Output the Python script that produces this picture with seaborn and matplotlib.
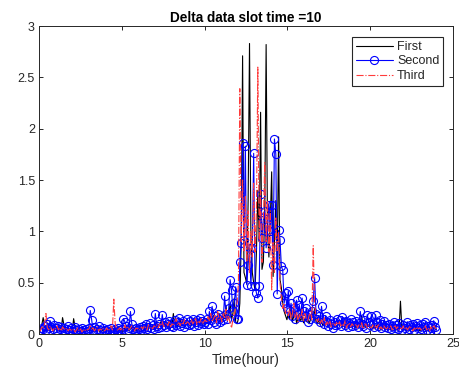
import numpy as np
import pandas as pd
import matplotlib
matplotlib.use("Agg")
import matplotlib.pyplot as plt
import seaborn as sns

# Valores (12 amostras por hora, uma linha por hora)
first = [
    0.03, 0.06, 0.09, 0.16, 0.08, 0.05, 0.07, 0.04, 0.06, 0.09, 0.05, 0.04,
    0.06, 0.03, 0.05, 0.07, 0.04, 0.16, 0.09, 0.04, 0.06, 0.03, 0.05, 0.04,
    0.03, 0.15, 0.07, 0.03, 0.05, 0.02, 0.04, 0.03, 0.05, 0.02, 0.04, 0.03,
    0.04, 0.03, 0.06, 0.02, 0.05, 0.03, 0.04, 0.06, 0.02, 0.05, 0.03, 0.04,
    0.02, 0.05, 0.03, 0.04, 0.02, 0.06, 0.03, 0.05, 0.04, 0.02, 0.05, 0.03,
    0.05, 0.03, 0.06, 0.04, 0.07, 0.03, 0.05, 0.08, 0.04, 0.06, 0.03, 0.05,
    0.04, 0.07, 0.05, 0.08, 0.04, 0.06, 0.09, 0.05, 0.07, 0.04, 0.08, 0.06,
    0.07, 0.10, 0.06, 0.09, 0.12, 0.07, 0.10, 0.08, 0.11, 0.06, 0.09, 0.13,
    0.08, 0.20, 0.09, 0.12, 0.07, 0.11, 0.14, 0.08, 0.10, 0.13, 0.09, 0.12,
    0.10, 0.13, 0.08, 0.12, 0.15, 0.09, 0.11, 0.14, 0.10, 0.13, 0.08, 0.12,
    0.15, 0.10, 0.13, 0.17, 0.11, 0.14, 0.18, 0.12, 0.16, 0.13, 0.20, 0.14,
    0.12, 0.22, 0.15, 0.28, 0.13, 0.18, 0.30, 0.14, 0.20, 0.35, 0.12, 0.10,
    0.15, 0.30, 0.90, 2.71, 0.60, 0.55, 0.49, 1.30, 2.83, 0.95, 0.60, 0.50,
    0.43, 0.80, 1.40, 0.90, 2.16, 0.63, 0.70, 1.20, 2.82, 1.00, 0.75, 1.10,
    1.58, 0.56, 0.90, 1.30, 0.70, 1.92, 0.53, 0.45, 0.30, 0.22, 0.18, 0.14,
    0.20, 0.15, 0.25, 0.12, 0.18, 0.22, 0.10, 0.16, 0.20, 0.13, 0.17, 0.11,
    0.15, 0.12, 0.18, 0.10, 0.14, 0.20, 0.16, 0.25, 0.12, 0.10, 0.14, 0.09,
    0.12, 0.08, 0.11, 0.09, 0.13, 0.07, 0.10, 0.12, 0.08, 0.11, 0.09, 0.07,
    0.10, 0.08, 0.12, 0.07, 0.09, 0.14, 0.06, 0.10, 0.08, 0.11, 0.07, 0.09,
    0.08, 0.06, 0.10, 0.07, 0.09, 0.18, 0.06, 0.08, 0.10, 0.07, 0.09, 0.06,
    0.07, 0.05, 0.08, 0.06, 0.09, 0.05, 0.07, 0.04, 0.06, 0.08, 0.05, 0.07,
    0.05, 0.07, 0.04, 0.06, 0.05, 0.08, 0.04, 0.06, 0.05, 0.32, 0.06, 0.04,
    0.06, 0.04, 0.07, 0.05, 0.03, 0.06, 0.04, 0.07, 0.05, 0.04, 0.06, 0.03,
    0.05, 0.07, 0.04, 0.06, 0.03, 0.05, 0.07, 0.04, 0.06, 0.05, 0.08, 0.04,
]

second = [
    0.03, 0.04, 0.06, 0.05, 0.08, 0.04, 0.10, 0.06, 0.13, 0.07, 0.05, 0.09,
    0.06, 0.03, 0.08, 0.05, 0.07, 0.04, 0.06, 0.02, 0.05, 0.08, 0.04, 0.06,
    0.03, 0.05, 0.07, 0.04, 0.02, 0.05, 0.03, 0.06, 0.04, 0.02, 0.05, 0.03,
    0.06, 0.23, 0.14, 0.04, 0.07, 0.03, 0.05, 0.08, 0.04, 0.02, 0.06, 0.03,
    0.04, 0.02, 0.05, 0.03, 0.06, 0.04, 0.02, 0.05, 0.03, 0.06, 0.04, 0.02,
    0.05, 0.15, 0.12, 0.08, 0.04, 0.06, 0.22, 0.10, 0.05, 0.03, 0.06, 0.04,
    0.05, 0.07, 0.04, 0.08, 0.06, 0.10, 0.05, 0.07, 0.11, 0.06, 0.09, 0.05,
    0.20, 0.08, 0.06, 0.10, 0.07, 0.19, 0.09, 0.12, 0.07, 0.10, 0.13, 0.08,
    0.11, 0.07, 0.14, 0.09, 0.12, 0.16, 0.08, 0.11, 0.13, 0.07, 0.10, 0.15,
    0.09, 0.13, 0.10, 0.15, 0.08, 0.12, 0.14, 0.09, 0.16, 0.11, 0.13, 0.10,
    0.12, 0.15, 0.10, 0.22, 0.14, 0.27, 0.12, 0.18, 0.10, 0.20, 0.15, 0.12,
    0.17, 0.14, 0.37, 0.20, 0.15, 0.25, 0.53, 0.43, 0.22, 0.30, 0.46, 0.15,
    0.15, 0.70, 0.89, 1.86, 0.92, 1.83, 0.48, 0.67, 0.84, 0.47, 0.84, 1.76,
    0.47, 0.40, 0.35, 0.47, 1.36, 0.94, 1.11, 1.20, 0.84, 1.01, 1.26, 1.00,
    1.26, 0.67, 1.90, 1.75, 0.39, 1.01, 0.92, 0.66, 0.62, 0.30, 0.40, 0.25,
    0.42, 0.22, 0.30, 0.18, 0.25, 0.15, 0.33, 0.20, 0.28, 0.17, 0.35, 0.22,
    0.18, 0.25, 0.12, 0.20, 0.15, 0.22, 0.32, 0.55, 0.20, 0.15, 0.18, 0.12,
    0.27, 0.15, 0.10, 0.18, 0.12, 0.08, 0.14, 0.10, 0.06, 0.12, 0.09, 0.15,
    0.10, 0.14, 0.08, 0.17, 0.12, 0.09, 0.13, 0.07, 0.11, 0.15, 0.08, 0.12,
    0.09, 0.13, 0.07, 0.11, 0.22, 0.10, 0.08, 0.14, 0.06, 0.19, 0.12, 0.09,
    0.18, 0.10, 0.07, 0.19, 0.12, 0.08, 0.14, 0.06, 0.10, 0.13, 0.07, 0.09,
    0.06, 0.10, 0.05, 0.08, 0.12, 0.06, 0.09, 0.05, 0.11, 0.07, 0.04, 0.09,
    0.06, 0.08, 0.12, 0.05, 0.09, 0.07, 0.10, 0.04, 0.08, 0.11, 0.06, 0.09,
    0.05, 0.10, 0.07, 0.12, 0.04, 0.08, 0.02, 0.06, 0.09, 0.13, 0.07, 0.04,
]

third = [
    0.04, 0.03, 0.07, 0.05, 0.10, 0.20, 0.06, 0.04, 0.08, 0.05, 0.03, 0.06,
    0.05, 0.08, 0.04, 0.06, 0.03, 0.07, 0.05, 0.04, 0.06, 0.03, 0.05, 0.04,
    0.03, 0.05, 0.02, 0.04, 0.06, 0.03, 0.05, 0.02, 0.04, 0.03, 0.05, 0.04,
    0.05, 0.08, 0.04, 0.06, 0.03, 0.05, 0.07, 0.03, 0.05, 0.04, 0.06, 0.03,
    0.04, 0.06, 0.03, 0.05, 0.08, 0.04, 0.34, 0.10, 0.05, 0.03, 0.06, 0.04,
    0.06, 0.04, 0.09, 0.05, 0.07, 0.04, 0.06, 0.08, 0.05, 0.03, 0.06, 0.05,
    0.06, 0.04, 0.07, 0.05, 0.08, 0.06, 0.04, 0.09, 0.06, 0.07, 0.05, 0.08,
    0.07, 0.09, 0.06, 0.10, 0.08, 0.12, 0.07, 0.09, 0.11, 0.08, 0.13, 0.07,
    0.10, 0.08, 0.12, 0.15, 0.09, 0.11, 0.08, 0.13, 0.10, 0.14, 0.09, 0.12,
    0.11, 0.09, 0.14, 0.10, 0.12, 0.16, 0.09, 0.13, 0.11, 0.15, 0.10, 0.12,
    0.14, 0.11, 0.17, 0.13, 0.20, 0.12, 0.15, 0.18, 0.11, 0.22, 0.14, 0.17,
    0.12, 0.20, 0.15, 0.24, 0.13, 0.18, 0.10, 0.06, 0.14, 0.20, 0.25, 0.30,
    0.50, 2.39, 0.90, 1.50, 0.80, 1.34, 0.70, 1.20, 0.60, 1.00, 0.75, 1.47,
    0.80, 1.20, 2.60, 0.90, 1.40, 0.70, 1.10, 1.67, 0.90, 1.30, 0.80, 1.20,
    0.43, 0.90, 0.60, 1.14, 0.80, 1.00, 0.50, 0.35, 0.25, 0.30, 0.20, 0.22,
    0.18, 0.25, 0.14, 0.20, 0.30, 0.16, 0.22, 0.12, 0.19, 0.15, 0.24, 0.13,
    0.20, 0.15, 0.12, 0.18, 0.22, 0.14, 0.86, 0.30, 0.16, 0.12, 0.15, 0.10,
    0.14, 0.10, 0.16, 0.08, 0.12, 0.09, 0.13, 0.07, 0.11, 0.10, 0.08, 0.12,
    0.09, 0.12, 0.07, 0.10, 0.08, 0.13, 0.06, 0.09, 0.11, 0.07, 0.10, 0.08,
    0.08, 0.10, 0.06, 0.09, 0.07, 0.11, 0.05, 0.08, 0.10, 0.06, 0.09, 0.07,
    0.06, 0.09, 0.05, 0.08, 0.06, 0.10, 0.05, 0.07, 0.04, 0.08, 0.06, 0.05,
    0.07, 0.05, 0.08, 0.04, 0.06, 0.09, 0.05, 0.07, 0.04, 0.06, 0.05, 0.08,
    0.05, 0.07, 0.04, 0.06, 0.08, 0.05, 0.03, 0.06, 0.04, 0.07, 0.05, 0.06,
    0.04, 0.06, 0.05, 0.08, 0.04, 0.06, 0.03, 0.07, 0.05, 0.09, 0.06, 0.05,
]

x_ticks = [0, 5, 10, 15, 20, 25]
y_ticks = [0, 0.5, 1, 1.5, 2, 2.5, 3]
title = "Delta data slot time =10"
x_label = "Time(hour)"

# Configurações de estilo (parecido com MATLAB)
sns.set_style("ticks")
plt.rcParams['font.family'] = ['Liberation Sans', 'DejaVu Sans']
axis_gray = '#262626'


def main():
    hours = np.linspace(0, 24, len(first))
    df = pd.DataFrame({'hora': hours, 'First': first,
                       'Second': second, 'Third': third})

    fig = plt.figure(figsize=(4.59, 3.72), dpi=100)
    ax = fig.add_axes([0.085, 0.102, 0.902, 0.828])

    sns.lineplot(data=df, x='hora', y='First', ax=ax, color='black',
                 linewidth=0.8, label='First', estimator=None, sort=False)
    sns.lineplot(data=df, x='hora', y='Second', ax=ax, color='#0000ff',
                 linewidth=0.8, marker='o', markersize=5.8,
                 markerfacecolor='none', markeredgecolor='#0000ff',
                 markeredgewidth=0.8, label='Second', estimator=None, sort=False)
    sns.lineplot(data=df, x='hora', y='Third', ax=ax, color='#ff3b3b',
                 linewidth=0.8, linestyle='-.', label='Third',
                 estimator=None, sort=False)

    ax.set_xlim(0, 25)
    ax.set_ylim(0, 3)
    ax.set_xticks(x_ticks)
    ax.set_yticks(y_ticks)
    ax.set_yticklabels([f"{v:g}" for v in y_ticks])

    ax.set_title(title, fontsize=9.8, fontweight='bold', pad=3, color='black')
    ax.set_xlabel(x_label, fontsize=10, color=axis_gray, labelpad=2)
    ax.set_ylabel('')

    ax.tick_params(direction='in', length=3, width=0.7, top=True, right=True,
                   labelsize=9, colors=axis_gray, pad=3)
    for spine in ax.spines.values():
        spine.set_visible(True)
        spine.set_color(axis_gray)
        spine.set_linewidth(0.7)

    leg = ax.legend(loc='upper right', bbox_to_anchor=(0.976, 0.964),
                    borderaxespad=0, fontsize=9, handlelength=3.0,
                    handletextpad=0.3, labelspacing=0.2, borderpad=0.3,
                    fancybox=False, framealpha=1, edgecolor=axis_gray)
    leg.get_frame().set_linewidth(0.8)

    fig.savefig('out.png', dpi=100)
    plt.close(fig)


if __name__ == "__main__":
    main()
